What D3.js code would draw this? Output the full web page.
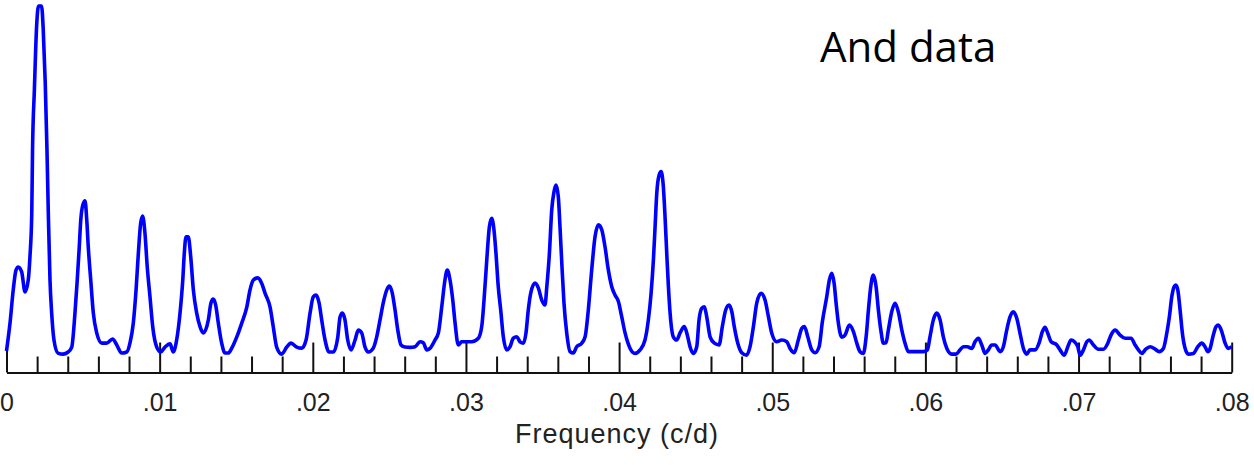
<!DOCTYPE html>
<html>
<head>
<meta charset="utf-8">
<script src="https://cdn.jsdelivr.net/npm/d3@7"></script>
<style>
  body { margin: 0; background: #fff; }
  svg { display: block; }
</style>
</head>
<body>
<div id="vis"></div>
<script>
const WIDTH = 1254;
const HEIGHT = 465;

// frequency (c/d) and relative power
const freq = [
  0, .00023, .00044, .00062, .00077, .00099, .00121, .00142, .00153, .00165,
  .0017, .00182, .00197, .00209, .00229, .0024, .00253, .00264, .00273, .00284,
  .00295, .0031, .00336, .00369, .00402, .00426, .00447, .00462, .00475, .00485,
  .00498, .00513, .00524, .00534, .0055, .00567, .00589, .00622, .00654, .00693,
  .0072, .00752, .00785, .00806, .00828, .00846, .00861, .00876, .00889, .00904,
  .00919, .00937, .00955, .00981, .01007, .01035, .01068, .01089, .01111, .01133,
  .01151, .01161, .01172, .01187, .01203, .0122, .01242, .01264, .01285, .01318,
  .01335, .0135, .01366, .01383, .01405, .01427, .01448, .01471, .01503, .01536,
  .01569, .0159, .01612, .0164, .01666, .01688, .01721, .01742, .01764, .01797,
  .0183, .01858, .01895, .01928, .01956, .01982, .02003, .02021, .02041, .02058,
  .0208, .02106, .02134, .02163, .02178, .02193, .0221, .02228, .0225, .02276,
  .02297, .02319, .02341, .02363, .02395, .02417, .02439, .0246, .02483, .025,
  .02519, .02537, .02555, .02576, .02602, .02635, .02668, .027, .02722, .02744,
  .02765, .02798, .0282, .02842, .02863, .02878, .02896, .02914, .02929, .0295,
  .02972, .03005, .03038, .03081, .03103, .03118, .03136, .03153, .03168, .03183,
  .03196, .03211, .03227, .03244, .03266, .03288, .03309, .03332, .03353, .03375,
  .03392, .03407, .03423, .03451, .03473, .03495, .03516, .03528, .03545, .0356,
  .03575, .03588, .03603, .03614, .03627, .0364, .03658, .0368, .03701, .03723,
  .03756, .03778, .03799, .03821, .03843, .03865, .03887, .03908, .0393, .03952,
  .03974, .03995, .04017, .04039, .04072, .04104, .04137, .04169, .04191, .04209,
  .04224, .04235, .04246, .04261, .04274, .04289, .043, .04311, .04322, .04333,
  .04354, .04376, .04398, .04426, .04448, .04463, .04485, .04507, .04522, .0454,
  .04557, .04572, .04594, .04622, .04653, .04674, .04696, .04718, .04736, .04752,
  .04775, .04801, .04833, .04855, .04877, .04899, .04927, .04953, .04975, .04997,
  .05029, .05062, .05095, .05116, .05144, .0517, .05193, .0521, .05232, .05258,
  .0528, .05306, .05327, .05356, .05373, .05389, .05404, .05417, .05432, .05454,
  .05475, .05504, .0553, .05552, .05573, .05595, .05613, .05628, .05643, .0566,
  .05678, .05693, .05709, .05726, .05743, .05758, .0578, .05802, .05823, .05846,
  .05867, .05889, .05933, .05987, .06013, .0603, .06052, .06074, .06096, .06117,
  .0614, .06172, .062, .06226, .06248, .06274, .06303, .06324, .06346, .06368,
  .0639, .06411, .06433, .06455, .06488, .06509, .06531, .06553, .06574, .06597,
  .06618, .0664, .06662, .06683, .06716, .06742, .06764, .06781, .06799, .06821,
  .06858, .06879, .06907, .0693, .06951, .06973, .06995, .0701, .07032, .07054,
  .07069, .07097, .07129, .07162, .07191, .07212, .07239, .07271, .07304, .07343,
  .07369, .07391, .07413, .07439, .07467, .075, .07526, .07554, .07576, .07593,
  .07609, .07624, .07635, .07648, .07663, .07678, .07696, .07717, .0775, .07779,
  .07805, .07826, .07844, .07859, .0788, .07898, .07913, .07935, .07957, .07978,
  .08
];
const power = [
  2.0, 9.9, 19.3, 24.9, 25.8, 24.4, 18.7, 22.1, 28.6, 41.1,
  58.9, 75.9, 94.3, 99.7, 99.7, 92.9, 77.9, 59.5, 41.1, 22.1,
  12.7, 5.1, 1.4, 1.1, 1.7, 3.1, 12.7, 22.1, 31.4, 39.1,
  43.3, 44.5, 39.1, 31.4, 22.1, 12.7, 7.1, 4.2, 4.2, 5.4,
  3.7, 1.4, 1.7, 4.2, 9.9, 19.3, 29.7, 38.2, 40.2, 35.4,
  25.8, 17.3, 8.8, 3.1, 1.7, 3.1, 4.0, 1.7, 5.1, 12.7,
  22.1, 29.7, 34.3, 34.3, 28.6, 19.3, 12.7, 8.8, 7.1, 10.8,
  15.6, 16.7, 15.0, 9.9, 4.2, 1.4, 1.4, 2.8, 5.9, 9.9,
  14.4, 19.3, 22.1, 22.7, 21.2, 18.4, 14.4, 8.8, 3.1, 1.1,
  3.1, 4.2, 3.1, 2.8, 5.1, 12.7, 17.3, 17.8, 15.6, 10.8,
  5.1, 1.7, 1.7, 5.9, 11.6, 12.7, 10.8, 5.1, 2.3, 5.1,
  7.9, 7.1, 3.1, 1.7, 2.8, 5.9, 10.8, 15.6, 19.3, 20.4,
  18.4, 13.6, 7.9, 3.7, 3.1, 3.0, 3.2, 4.6, 4.3, 2.3,
  2.7, 5.1, 7.1, 14.5, 22.1, 24.9, 22.1, 16.4, 9.9, 3.7,
  4.6, 4.6, 4.6, 5.6, 8.9, 16.4, 27.8, 37.2, 39.6, 36.3,
  29.7, 20.2, 13.6, 6.0, 2.3, 3.2, 5.6, 6.0, 4.6, 4.2,
  7.1, 13.6, 18.4, 21.2, 19.8, 16.4, 15.0, 20.2, 29.7, 41.9,
  47.1, 49.0, 45.7, 37.2, 25.9, 15.6, 7.1, 1.8, 1.4, 3.2,
  4.2, 6.0, 13.6, 24.9, 34.4, 37.7, 36.3, 31.5, 24.9, 20.2,
  17.8, 16.1, 11.7, 7.1, 2.7, 1.3, 2.3, 5.1, 10.8, 18.4,
  27.8, 37.2, 46.7, 51.8, 52.8, 48.5, 40.0, 29.7, 20.2, 12.7,
  6.0, 5.1, 7.1, 8.9, 6.0, 3.2, 1.3, 3.2, 10.8, 14.1,
  14.5, 11.7, 6.0, 4.2, 3.7, 8.9, 13.6, 15.0, 13.1, 8.9,
  4.2, 1.5, 0.8, 3.2, 8.9, 15.6, 18.3, 16.4, 11.7, 7.0,
  4.6, 5.1, 4.6, 2.7, 1.5, 5.1, 8.4, 8.9, 6.0, 2.3,
  1.5, 3.2, 10.2, 17.4, 22.1, 24.0, 21.2, 15.5, 9.8, 5.9,
  6.5, 9.3, 7.5, 4.2, 1.8, 1.3, 6.0, 13.6, 20.2, 23.5,
  20.2, 13.6, 7.9, 4.2, 4.3, 7.9, 13.1, 15.5, 13.1, 7.9,
  4.2, 1.8, 1.8, 1.8, 2.3, 6.0, 10.8, 12.7, 10.8, 6.0,
  2.7, 1.1, 1.1, 2.3, 3.2, 3.2, 2.7, 4.6, 5.6, 3.7,
  1.3, 2.3, 3.7, 3.7, 1.8, 3.2, 7.9, 11.7, 13.1, 11.2,
  7.0, 2.7, 1.1, 2.3, 2.3, 4.2, 7.5, 8.7, 7.0, 4.6,
  3.7, 2.3, 0.8, 3.2, 5.1, 4.6, 3.2, 0.8, 2.3, 4.6,
  5.1, 3.7, 2.5, 2.5, 4.2, 6.5, 7.9, 6.5, 5.6, 5.6,
  3.7, 2.3, 1.3, 2.5, 3.2, 2.5, 1.8, 2.7, 7.0, 11.7,
  17.4, 20.2, 20.7, 19.3, 13.6, 7.0, 2.7, 1.1, 1.3, 3.2,
  4.2, 3.2, 1.8, 2.7, 6.5, 8.9, 9.3, 7.5, 4.2, 2.7,
  3.2
];

// axis ticks
const majorTicks = [0, .01, .02, .03, .04, .05, .06, .07, .08];
const tickLabels = ["0", ".01", ".02", ".03", ".04", ".05", ".06", ".07", ".08"];
const minorTicks = d3.range(0, 41).map(i => i * 0.002)
  .filter(v => Math.abs(v * 100 - Math.round(v * 100)) > 1e-6);

const points = freq.map((f, i) => ({f: f, p: power[i]}));

const svg = d3.select("#vis")
  .append("svg")
    .attr("width", WIDTH)
    .attr("height", HEIGHT);

const X_SCALE = d3.scaleLinear()
  .domain([0, 0.08])
  .range([6.5, 1231.7]);

const Y_SCALE = d3.scaleLinear()
  .domain([0, 100])
  .range([358, 5]);

const AXIS_Y = 372.5;

// minor ticks (no labels)
svg.append("g")
  .attr("transform", "translate(0," + AXIS_Y + ")")
  .call(d3.axisBottom(X_SCALE)
    .tickValues(minorTicks)
    .tickSize(-16)
    .tickSizeOuter(0)
    .tickFormat(""))
  .call(g => g.select(".domain").remove())
  .call(g => g.selectAll(".tick line").attr("stroke", "#111").attr("stroke-width", 2));

// major ticks with labels
svg.append("g")
  .attr("transform", "translate(0," + AXIS_Y + ")")
  .call(d3.axisBottom(X_SCALE)
    .tickValues(majorTicks)
    .tickSize(-30)
    .tickSizeOuter(0)
    .tickPadding(21)
    .tickFormat((d, i) => tickLabels[i]))
  .call(g => g.select(".domain").attr("stroke", "#111").attr("stroke-width", 2))
  .call(g => g.selectAll(".tick line").attr("stroke", "#111").attr("stroke-width", 2))
  .call(g => g.selectAll(".tick text")
    .attr("fill", "#222")
    .attr("font-family", "'Liberation Sans', Arial, sans-serif")
    .attr("font-size", 25));

// periodogram line
svg.append("path")
  .datum(points)
  .attr("fill", "none")
  .attr("stroke", "#0000ff")
  .attr("stroke-width", 3.6)
  .attr("stroke-linejoin", "round")
  .attr("d", d3.line()
    .x(d => X_SCALE(d.f))
    .y(d => Y_SCALE(d.p))
    .curve(d3.curveMonotoneX));

// axis title
svg.append("text")
  .attr("x", 617)
  .attr("y", 443)
  .attr("text-anchor", "middle")
  .attr("fill", "#222")
  .attr("font-family", "'Liberation Sans', Arial, sans-serif")
  .attr("font-size", 27)
  .attr("letter-spacing", 1)
  .text("Frequency (c/d)");

// slide caption
svg.append("text")
  .attr("x", 820)
  .attr("y", 62)
  .attr("fill", "#000")
  .attr("font-family", "'Open Sans', sans-serif")
  .attr("font-size", 42)
  .text("And data");
</script>
</body>
</html>
